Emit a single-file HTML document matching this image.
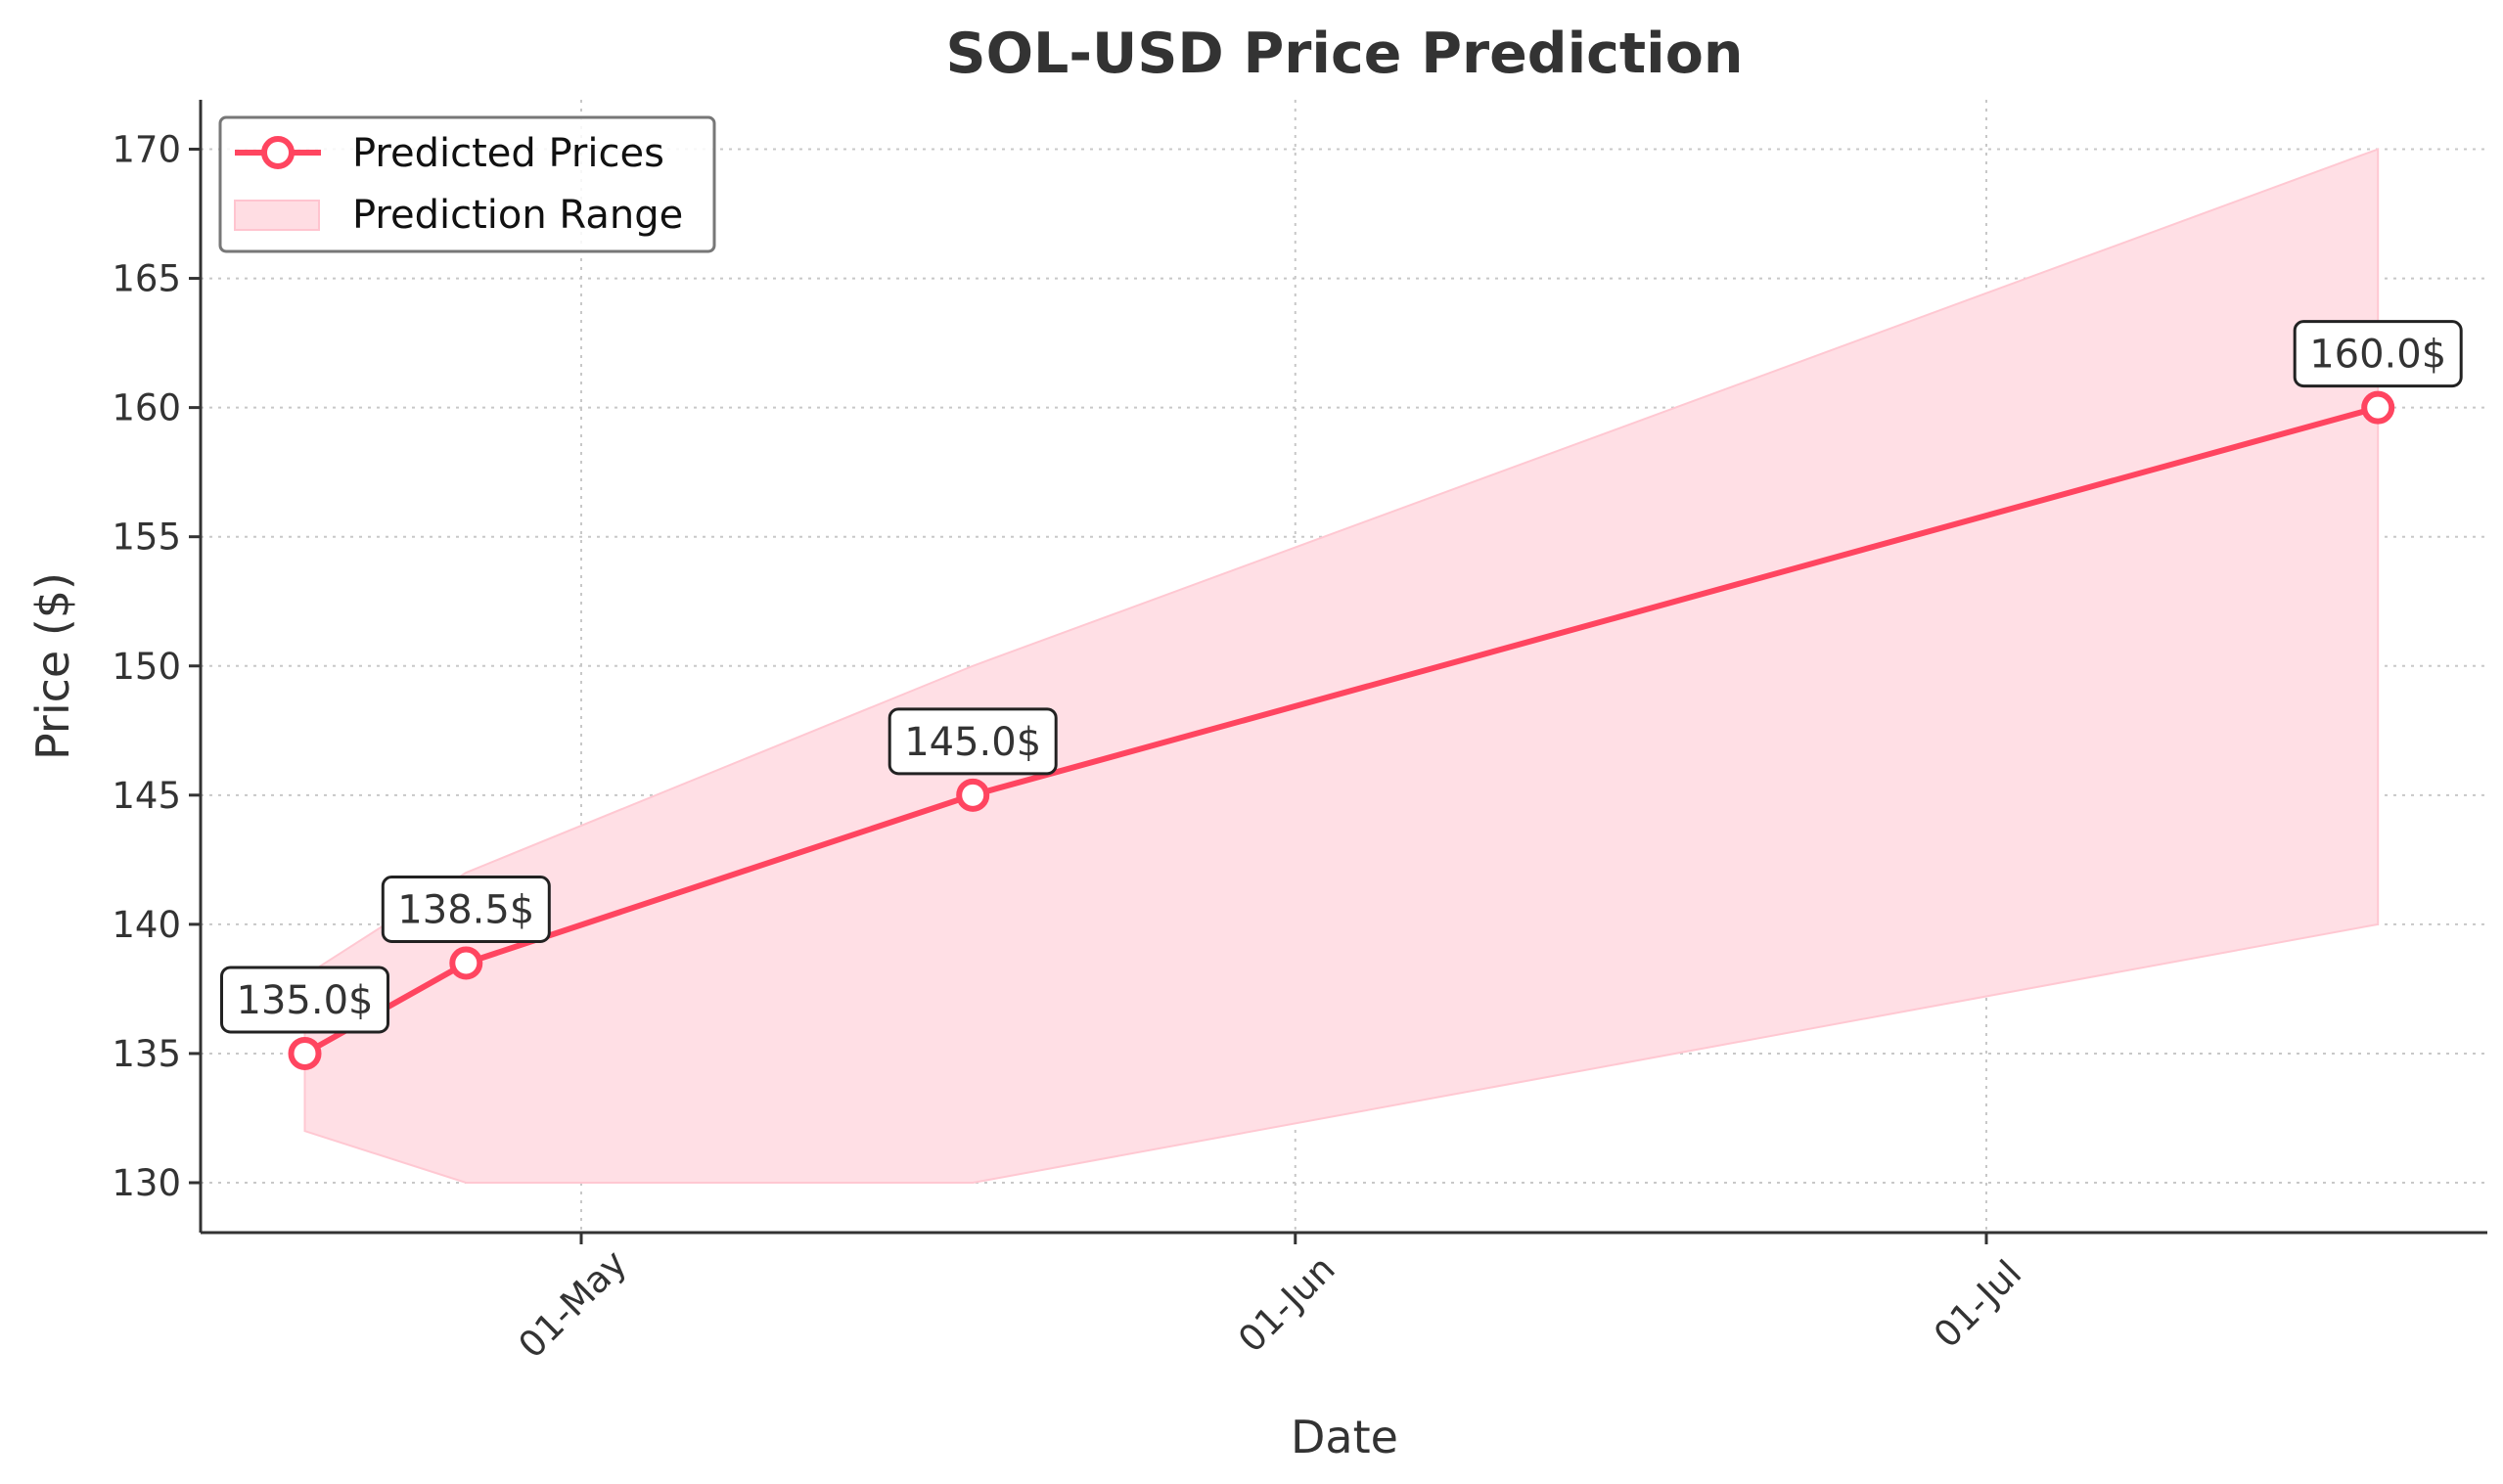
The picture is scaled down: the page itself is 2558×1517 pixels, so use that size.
<!DOCTYPE html>
<html><head><meta charset="utf-8"><style>
html,body{margin:0;padding:0;background:#fff;}
svg{display:block;font-family:"DejaVu Sans","Liberation Sans",sans-serif;}
</style></head><body>
<svg id="chart" width="2558" height="1517" viewBox="0 0 2558 1517">
<text x="1374" y="74" text-anchor="middle" font-size="57" font-weight="bold" fill="#333">SOL-USD Price Prediction</text>
<g id="grid"></g>
<g id="band"></g>
<g id="series"></g>
<g id="axes"></g>
<g id="ann"></g>
<text x="1374" y="1485" text-anchor="middle" font-size="46" fill="#333">Date</text>
<text transform="translate(70,681) rotate(-90)" text-anchor="middle" font-size="46" fill="#333">Price ($)</text>
<g>
<rect x="225" y="120" width="505" height="137" rx="6" fill="#fff" fill-opacity="0.85" stroke="#777" stroke-width="3"/>
<g>
<line x1="240" y1="156" x2="328" y2="156" stroke="#ff4560" stroke-width="6"/>
<circle cx="284" cy="156" r="14" fill="#fff" stroke="#ff4560" stroke-width="6"/>
<text x="360" y="170" font-size="40" fill="#111">Predicted Prices</text>
</g>
<g>
<rect x="240" y="205" width="86" height="30" fill="#ffdde3" stroke="#ffc4cf" stroke-width="2"/>
<text x="360" y="233" font-size="40" fill="#111">Prediction Range</text>
</g>
</g>
</svg>
<script>
const dayOffsets=[-12,-5,17,78];
const predicted=[135.0,138.5,145.0,160.0];
const lowerBound=[132,130,130,140];
const upperBound=[138,142,150,170];
const yTicks=[130,135,140,145,150,155,160,165,170];
const xTickDays=[0,31,61];
const xTickLabels=["01-May","01-Jun","01-Jul"];

const NS="http://www.w3.org/2000/svg";
const L=205,R=2542,T=102,B=1260;
function xs(d){return 594+d*(2030-594)/61;}
function ys(v){return 1209-(v-130)*(1209-152.5)/40;}
function mk(tag,attrs,parent){const e=document.createElementNS(NS,tag);for(const k in attrs)e.setAttribute(k,attrs[k]);parent.appendChild(e);return e;}
const grid=document.getElementById('grid'),axes=document.getElementById('axes'),band=document.getElementById('band'),series=document.getElementById('series'),ann=document.getElementById('ann');

yTicks.forEach(v=>{
  const y=ys(v);
  const g=mk('line',{x1:L,x2:R,y1:y,y2:y,stroke:'#c8c8c8','stroke-width':2,'stroke-dasharray':'3,6'},grid);
  
  
  const t=mk('line',{x1:L-12,x2:L,y1:y,y2:y,stroke:'#333','stroke-width':3},axes);
  
  
  const tx=mk('text',{x:L-20,y:y+13,'text-anchor':'end','font-size':37,fill:'#333'},axes);
  tx.textContent=v;
  
  
});
xTickDays.forEach((d,i)=>{
  const x=xs(d);
  const g=mk('line',{x1:x,x2:x,y1:T,y2:B,stroke:'#c8c8c8','stroke-width':2,'stroke-dasharray':'3,6'},grid);
  
  
  const t=mk('line',{x1:x,x2:x,y1:B,y2:B+12,stroke:'#333','stroke-width':3},axes);
  
  
  const tx=mk('text',{transform:`translate(${x},${B+82}) rotate(-45)`,'text-anchor':'middle','font-size':37,fill:'#333'},axes);
  tx.textContent=xTickLabels[i];
  
  
});
const ya=mk('line',{x1:L,x2:L,y1:T,y2:B,stroke:'#333','stroke-width':3},axes);


const xa=mk('line',{x1:L,x2:R,y1:B,y2:B,stroke:'#333','stroke-width':3},axes);



let pts=dayOffsets.map((d,i)=>xs(d)+','+ys(upperBound[i]));
for(let i=dayOffsets.length-1;i>=0;i--)pts.push(xs(dayOffsets[i])+','+ys(lowerBound[i]));
const poly=mk('polygon',{points:pts.join(' '),fill:'#ffdfe5',stroke:'#ffc8d2','stroke-width':2},band);



const line=mk('polyline',{points:dayOffsets.map((d,i)=>xs(d)+','+ys(predicted[i])).join(' '),fill:'none',stroke:'#ff4560','stroke-width':6,'stroke-linejoin':'round'},series);


dayOffsets.forEach((d,i)=>{
  const x=xs(d),y=ys(predicted[i]);
  const c=mk('circle',{cx:x,cy:y,r:14,fill:'#fff',stroke:'#ff4560','stroke-width':6},series);
  
  
  const g=mk('g',{},ann);
  
  
  mk('rect',{x:x-85,y:y-88,width:170,height:66,rx:9,fill:'#fff',stroke:'#222','stroke-width':3},g);
  const t=mk('text',{x:x,y:y-41,'text-anchor':'middle','font-size':40,fill:'#333'},g);
  t.textContent=predicted[i].toFixed(1)+'$';
});
</script>
</body></html>
